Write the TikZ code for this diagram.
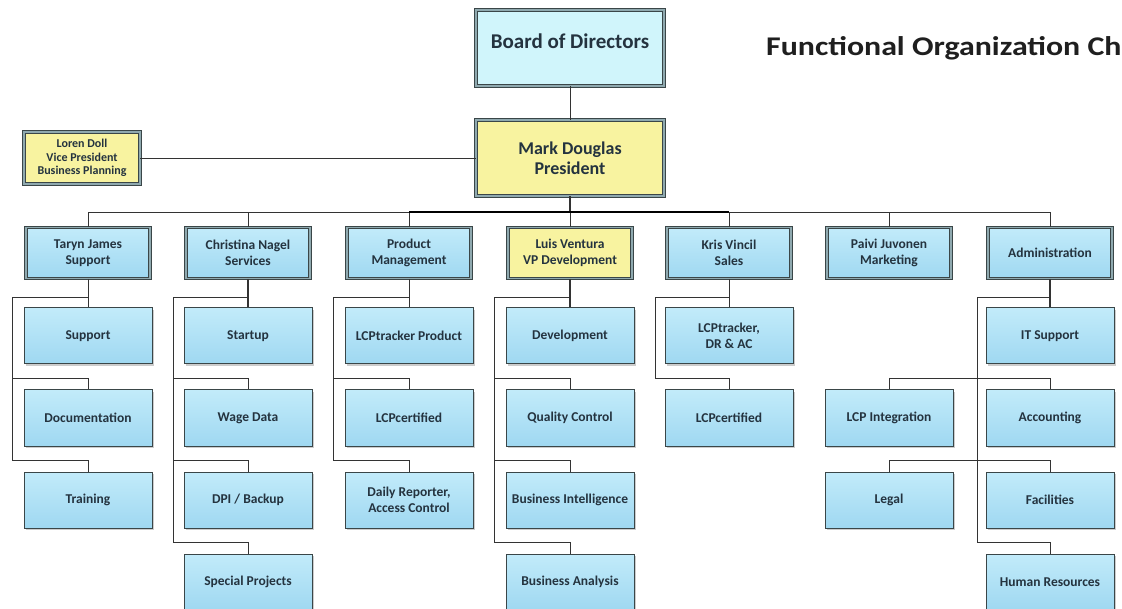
\documentclass[tikz,border=0pt]{standalone}
\usepackage{fontspec}
\setmainfont{Carlito}
\usetikzlibrary{shadows}
\definecolor{boxblue}{HTML}{9FD8F1}
\definecolor{boxblueT}{HTML}{C2EBFA}
\definecolor{boardcyan}{HTML}{D0F5FB}
\definecolor{boxyellow}{HTML}{F8F3A0}
\definecolor{edge}{HTML}{3A4648}
\definecolor{band}{HTML}{8FA9AF}
\definecolor{txt}{HTML}{24333F}
\definecolor{wire}{HTML}{333333}
\begin{document}
\begin{tikzpicture}[x=1pt,y=-1pt,
  base/.style={rectangle, draw=edge, line width=1pt, text=txt, align=center,
    font=\bfseries\fontsize{13.5}{15.5}\selectfont, inner sep=1pt,
    drop shadow={shadow xshift=1.8pt, shadow yshift=-1.8pt, opacity=0.4}},
  dbl/.style={base, line width=0.8pt, double=band, double distance=1.5pt},
  child/.style={base, top color=boxblueT, bottom color=boxblue, minimum width=128pt, minimum height=56pt},
  head/.style={dbl, top color=boxblueT, bottom color=boxblue, minimum width=124pt, minimum height=51pt},
  yhead/.style={dbl, fill=boxyellow, minimum width=124pt, minimum height=51pt},
  wire/.style={draw=wire, line width=0.8pt}
]
\useasboundingbox (0,0) rectangle (1122,609);
\fill[white] (0,0) rectangle (1122,609);

% top
\node[dbl, fill=boardcyan, minimum width=188pt, minimum height=76pt, font=\bfseries\fontsize{21}{24}\selectfont] (board) at (570,48) {\raisebox{14pt}{Board of Directors}};
\node[dbl, fill=boxyellow, minimum width=188pt, minimum height=76pt, font=\bfseries\fontsize{18}{20}\selectfont] (mark) at (570,158) {Mark Douglas\\President};
\node[dbl, fill=boxyellow, minimum width=116pt, minimum height=52pt, font=\bfseries\fontsize{12}{13.5}\selectfont] (loren) at (82,158) {Loren Doll\\Vice President\\Business Planning};
\node[anchor=west, text=black!88, inner sep=0pt, font=\bfseries\fontsize{27}{30}\selectfont] (title) at (766,48) {\scalebox{1.18}[1]{Functional Organization Ch}};

% headers
\node[head]  (h1) at (88,253)  {Taryn James\\Support};
\node[head]  (h2) at (248,253) {Christina Nagel\\Services};
\node[head]  (h3) at (409,253) {Product\\Management};
\node[yhead] (h4) at (570,253) {Luis Ventura\\VP Development};
\node[head]  (h5) at (729,253) {Kris Vincil\\Sales};
\node[head]  (h6) at (889,253) {Paivi Juvonen\\Marketing};
\node[head]  (h7) at (1050,253) {Administration};

% children
\node[child] (c11) at (88,336) {Support};
\node[child] (c12) at (88,418) {Documentation};
\node[child] (c13) at (88,500) {Training};

\node[child] (c21) at (248,336) {Startup};
\node[child] (c22) at (248,418) {Wage Data};
\node[child] (c23) at (248,500) {DPI / Backup};
\node[child] (c24) at (248,582) {Special Projects};

\node[child] (c31) at (409,336) {LCPtracker Product};
\node[child] (c32) at (409,418) {LCPcertified};
\node[child] (c33) at (409,500) {Daily Reporter,\\Access Control};

\node[child] (c41) at (570,336) {Development};
\node[child] (c42) at (570,418) {Quality Control};
\node[child] (c43) at (570,500) {Business Intelligence};
\node[child] (c44) at (570,582) {Business Analysis};

\node[child] (c51) at (729,336) {LCPtracker,\\DR \& AC};
\node[child] (c52) at (729,418) {LCPcertified};

\node[child] (c62) at (889,418) {LCP Integration};
\node[child] (c63) at (889,500) {Legal};

\node[child] (c71) at (1050,336) {IT Support};
\node[child] (c72) at (1050,418) {Accounting};
\node[child] (c73) at (1050,500) {Facilities};
\node[child] (c74) at (1050,582) {Human Resources};

% top connectors
\draw[wire] (board.south) -- (mark.north);
\draw[wire] (loren.east) -- (loren.east -| mark.west);
\coordinate (bus) at (570,212);
\draw[wire, line width=1.2pt] (mark.south) -- (bus);
\foreach \h in {h1,h2,h3,h4,h5,h6,h7}{
  \draw[wire] (\h.north) |- (bus);
}
\draw[wire, line width=1.3pt, black] (h3.north |- bus) -- (h5.north |- bus);

% column 1
\coordinate (b1) at (12,297);
\draw[wire] (h1.south) -- (c11.north);
\draw[wire] (c11.north |- b1) -- (b1) |- (c13.north |- 0,460) -- (c13.north);
\draw[wire] (b1 |- 0,378) -| (c12.north);

% column 2
\coordinate (b2) at (173,297);
\draw[wire, line width=1.1pt] (h2.south) -- (c21.north);
\draw[wire] (c21.north |- b2) -- (b2) |- (c24.north |- 0,542) -- (c24.north);
\draw[wire] (b2 |- 0,378) -| (c22.north);
\draw[wire] (b2 |- 0,460) -| (c23.north);

% column 3
\coordinate (b3) at (333,297);
\draw[wire] (h3.south) -- (c31.north);
\draw[wire] (c31.north |- b3) -- (b3) |- (c33.north |- 0,460) -- (c33.north);
\draw[wire] (b3 |- 0,378) -| (c32.north);

% column 4
\coordinate (b4) at (494,297);
\draw[wire, line width=1.1pt] (h4.south) -- (c41.north);
\draw[wire] (c41.north |- b4) -- (b4) |- (c44.north |- 0,542) -- (c44.north);
\draw[wire] (b4 |- 0,378) -| (c42.north);
\draw[wire] (b4 |- 0,460) -| (c43.north);

% column 5
\coordinate (b5) at (655,297);
\draw[wire] (h5.south) -- (c51.north);
\draw[wire] (c51.north |- b5) -- (b5) |- (c52.north |- 0,378) -- (c52.north);

% column 7 (Administration)
\coordinate (b7) at (977,297);
\draw[wire, line width=1.1pt] (h7.south) -- (c71.north);
\draw[wire] (c71.north |- b7) -- (b7) |- (c74.north |- 0,542) -- (c74.north);
\draw[wire] (c62.north |- 0,378) -| (c72.north);
\draw[wire] (c62.north |- 0,378) -- (c62.north);
\draw[wire] (c63.north |- 0,460) -| (c73.north);
\draw[wire] (c63.north |- 0,460) -- (c63.north);
\end{tikzpicture}
\end{document}
